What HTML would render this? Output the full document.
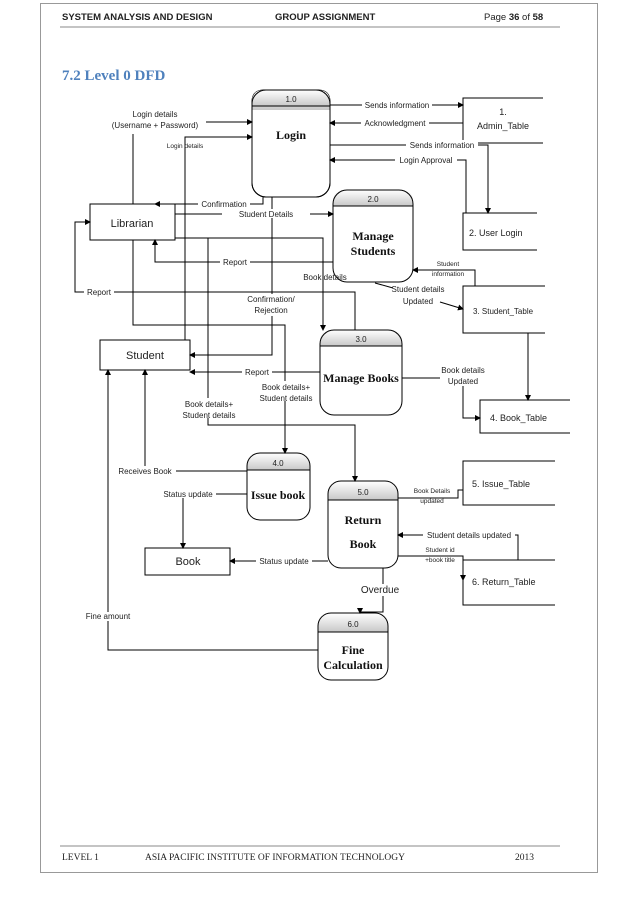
<!DOCTYPE html>
<html><head><meta charset="utf-8"><style>
html,body{margin:0;padding:0;background:#fff;}
svg{display:block;}
text{font-family:"Liberation Sans",sans-serif;fill:#222;}
.s{font-size:8px;}
.xs{font-size:6.5px;}
.m{font-size:11px;}
.b{font-family:"Liberation Serif",serif;font-weight:bold;font-size:12px;fill:#111;}
.h{font-family:"Liberation Sans",sans-serif;font-weight:bold;font-size:9.5px;}
.f{font-family:"Liberation Serif",serif;font-size:9.5px;}
</style></head><body>
<svg width="638" height="903" viewBox="0 0 638 903" xmlns="http://www.w3.org/2000/svg">
<defs>
<marker id="a" markerWidth="6" markerHeight="6" refX="5" refY="3" orient="auto" markerUnits="userSpaceOnUse"><path d="M0,0 L6,3 L0,6 z" fill="#000"/></marker>
<linearGradient id="g" x1="0" y1="0" x2="0" y2="1"><stop offset="0" stop-color="#fff"/><stop offset="1" stop-color="#c8c8c8"/></linearGradient>
</defs>
<rect x="40.5" y="3.5" width="557" height="869" fill="none" stroke="#999" stroke-width="1"/>
<text x="62" y="20" class="h">SYSTEM ANALYSIS AND DESIGN</text>
<text x="275" y="20" class="h">GROUP ASSIGNMENT</text>
<text x="484" y="20" style="font-size:9.5px">Page <tspan font-weight="bold">36</tspan> of <tspan font-weight="bold">58</tspan></text>
<line x1="60" y1="27" x2="560" y2="27" stroke="#888"/>
<text x="62" y="80" style="font-family:'Liberation Serif',serif;font-weight:bold;font-size:15px;fill:#4f81bd">7.2 Level 0 DFD</text>

<g fill="none" stroke="#000" stroke-width="1">
<!-- processes -->
<path d="M252,110 V102 Q252,90 264,90 H318 Q330,90 330,102 V110" fill="url(#g)"/>
<rect x="252" y="90" width="78" height="107" rx="14" />
<line x1="252" y1="106" x2="330" y2="106"/>
<path d="M333,206 V202 Q333,190 345,190 H401 Q413,190 413,202 V206 Z" fill="url(#g)" stroke="none"/>
<rect x="333" y="190" width="80" height="92" rx="14"/>
<line x1="333" y1="206" x2="413" y2="206"/>
<path d="M320,346 V342 Q320,330 332,330 H390 Q402,330 402,342 V346 Z" fill="url(#g)" stroke="none"/>
<rect x="320" y="330" width="82" height="85" rx="14"/>
<line x1="320" y1="346" x2="402" y2="346"/>
<path d="M247,470 V465 Q247,453 259,453 H298 Q310,453 310,465 V470 Z" fill="url(#g)" stroke="none"/>
<rect x="247" y="453" width="63" height="67" rx="13"/>
<line x1="247" y1="470" x2="310" y2="470"/>
<path d="M328,500 V493 Q328,481 340,481 H386 Q398,481 398,493 V500 Z" fill="url(#g)" stroke="none"/>
<rect x="328" y="481" width="70" height="87" rx="13"/>
<line x1="328" y1="500" x2="398" y2="500"/>
<path d="M318,632 V625 Q318,613 330,613 H376 Q388,613 388,625 V632 Z" fill="url(#g)" stroke="none"/>
<rect x="318" y="613" width="70" height="67" rx="13"/>
<line x1="318" y1="632" x2="388" y2="632"/>
<path d="M252,106 V102 Q252,90 264,90 H318 Q330,90 330,102 V106 Z" fill="url(#g)" stroke="none"/>
<rect x="252" y="90" width="78" height="107" rx="14"/>
<line x1="252" y1="106" x2="330" y2="106"/>

<!-- entities -->
<rect x="90" y="204" width="85" height="36"/>
<rect x="100" y="340" width="90" height="30"/>
<rect x="145" y="548" width="85" height="27"/>
<!-- data stores (open right) -->
<path d="M543,98 H463 V143 H543"/>
<path d="M537,213 H463 V250 H537"/>
<path d="M545,286 H463 V333 H545"/>
<path d="M570,400 H480 V433 H570"/>
<path d="M555,461 H463 V505 H555"/>
<path d="M555,560 H463 V605 H555"/>

<!-- flows -->
<line x1="330" y1="105" x2="463" y2="105" marker-end="url(#a)"/>
<line x1="463" y1="123" x2="330" y2="123" marker-end="url(#a)"/>
<path d="M330,145 H488 V213" marker-end="url(#a)"/>
<path d="M466,213 V160 H330" marker-end="url(#a)"/>
<path d="M133,204 V134"/>
<line x1="206" y1="122" x2="252" y2="122" marker-end="url(#a)"/>
<path d="M185,340 V137 H252" marker-end="url(#a)"/>
<path d="M263,197 V204 H155" marker-end="url(#a)"/>
<line x1="175" y1="214" x2="333" y2="214" marker-end="url(#a)"/>
<path d="M272,197 V355 H190" marker-end="url(#a)"/>
<path d="M175,238 H323 V330" marker-end="url(#a)"/>
<path d="M333,262 H155 V240" marker-end="url(#a)"/>
<path d="M355,330 V292 H75 V222 H90" marker-end="url(#a)"/>
<path d="M133,240 V325 H285 V453" marker-end="url(#a)"/>
<path d="M208,238 V425 H355 V481" marker-end="url(#a)"/>
<line x1="320" y1="372" x2="190" y2="372" marker-end="url(#a)"/>
<line x1="375" y1="283" x2="393" y2="288"/>
<line x1="440" y1="302" x2="463" y2="309" marker-end="url(#a)"/>
<path d="M475,286 V270 H413" marker-end="url(#a)"/>
<line x1="528" y1="333" x2="528" y2="400" marker-end="url(#a)"/>
<path d="M402,378 H440"/>
<path d="M463,386 V418 H480" marker-end="url(#a)"/>
<path d="M247,471 H145 V370" marker-end="url(#a)"/>
<path d="M247,494 H183 V548" marker-end="url(#a)"/>
<line x1="328" y1="561" x2="230" y2="561" marker-end="url(#a)"/>
<path d="M398,498 H458 V490 H463"/>
<path d="M518,560 V535 H398" marker-end="url(#a)"/>
<path d="M398,556 H463 V580" marker-end="url(#a)"/>
<path d="M383,568 V612 H360 V613" marker-end="url(#a)"/>
<path d="M318,650 H108 V370" marker-end="url(#a)"/>
</g>

<!-- label backgrounds and labels -->
<g fill="#fff">
<rect x="362" y="100" width="70" height="9"/><rect x="361" y="118" width="68" height="9"/>
<rect x="406" y="140" width="72" height="9"/><rect x="395" y="155" width="62" height="9"/>
<rect x="198" y="199" width="52" height="9"/><rect x="222" y="209" width="88" height="9"/>
<rect x="220" y="257" width="30" height="9"/><rect x="84" y="287" width="30" height="9"/>
<rect x="242" y="367" width="30" height="9"/><rect x="116" y="466" width="60" height="9"/>
<rect x="160" y="489" width="56" height="9"/><rect x="256" y="556" width="56" height="9"/>
<rect x="423" y="530" width="92" height="9"/><rect x="360" y="584" width="42" height="12"/>
<rect x="78" y="612" width="60" height="9"/><rect x="243" y="294" width="56" height="22"/>
<rect x="180" y="398" width="58" height="20"/><rect x="256" y="381" width="60" height="20"/>
</g>
<text class="s" x="155" y="117" text-anchor="middle">Login details</text>
<text class="s" x="155" y="128" text-anchor="middle">(Username + Password)</text>
<text class="xs" x="185" y="148" text-anchor="middle">Login details</text>
<text class="s" x="397" y="108" text-anchor="middle">Sends information</text>
<text class="s" x="395" y="126" text-anchor="middle">Acknowledgment</text>
<text class="s" x="442" y="148" text-anchor="middle">Sends information</text>
<text class="s" x="426" y="163" text-anchor="middle">Login Approval</text>
<text class="s" x="224" y="207" text-anchor="middle">Confirmation</text>
<text class="s" x="266" y="217" text-anchor="middle">Student Details</text>
<text class="s" x="235" y="265" text-anchor="middle">Report</text>
<text class="s" x="99" y="295" text-anchor="middle">Report</text>
<text class="s" x="325" y="280" text-anchor="middle">Book details</text>
<text class="s" x="418" y="292" text-anchor="middle">Student details</text>
<text class="s" x="418" y="304" text-anchor="middle">Updated</text>
<text class="xs" x="448" y="266" text-anchor="middle">Student</text>
<text class="xs" x="448" y="276" text-anchor="middle">information</text>
<text class="s" x="271" y="302" text-anchor="middle">Confirmation/</text>
<text class="s" x="271" y="313" text-anchor="middle">Rejection</text>
<text class="s" x="257" y="375" text-anchor="middle">Report</text>
<text class="s" x="463" y="373" text-anchor="middle">Book details</text>
<text class="s" x="463" y="384" text-anchor="middle">Updated</text>
<text class="s" x="286" y="390" text-anchor="middle">Book details+</text>
<text class="s" x="286" y="401" text-anchor="middle">Student details</text>
<text class="s" x="209" y="407" text-anchor="middle">Book details+</text>
<text class="s" x="209" y="418" text-anchor="middle">Student details</text>
<text class="s" x="145" y="474" text-anchor="middle">Receives Book</text>
<text class="s" x="188" y="497" text-anchor="middle">Status update</text>
<text class="s" x="284" y="564" text-anchor="middle">Status update</text>
<text class="xs" x="432" y="493" text-anchor="middle">Book Details</text>
<text class="xs" x="432" y="503" text-anchor="middle">updated</text>
<text class="s" x="469" y="538" text-anchor="middle">Student details updated</text>
<text class="xs" x="440" y="552" text-anchor="middle">Student id</text>
<text class="xs" x="440" y="562" text-anchor="middle">+book title</text>
<text x="380" y="593" text-anchor="middle" style="font-size:10px">Overdue</text>
<text class="s" x="108" y="619" text-anchor="middle">Fine amount</text>

<text class="s" x="291" y="102" text-anchor="middle">1.0</text>
<text class="b" x="291" y="139" text-anchor="middle">Login</text>
<text class="s" x="373" y="202" text-anchor="middle">2.0</text>
<text class="b" x="373" y="240" text-anchor="middle">Manage</text>
<text class="b" x="373" y="255" text-anchor="middle">Students</text>
<text class="s" x="361" y="342" text-anchor="middle">3.0</text>
<text class="b" x="361" y="382" text-anchor="middle">Manage Books</text>
<text class="s" x="278" y="466" text-anchor="middle">4.0</text>
<text class="b" x="278" y="499" text-anchor="middle">Issue book</text>
<text class="s" x="363" y="495" text-anchor="middle">5.0</text>
<text class="b" x="363" y="524" text-anchor="middle">Return</text>
<text class="b" x="363" y="548" text-anchor="middle">Book</text>
<text class="s" x="353" y="627" text-anchor="middle">6.0</text>
<text class="b" x="353" y="654" text-anchor="middle">Fine</text>
<text class="b" x="353" y="669" text-anchor="middle">Calculation</text>

<text class="m" x="132" y="227" text-anchor="middle">Librarian</text>
<text class="m" x="145" y="359" text-anchor="middle">Student</text>
<text class="m" x="188" y="565" text-anchor="middle">Book</text>
<text class="s" x="503" y="115" text-anchor="middle" style="font-size:9px">1.</text>
<text class="s" x="503" y="129" text-anchor="middle" style="font-size:9px">Admin_Table</text>
<text x="469" y="236" style="font-size:9px">2.  User Login</text>
<text class="s" x="473" y="314">3.  Student_Table</text>
<text x="490" y="421" style="font-size:9px">4.  Book_Table</text>
<text x="472" y="487" style="font-size:9px">5.  Issue_Table</text>
<text x="472" y="585" style="font-size:9px">6.  Return_Table</text>

<line x1="60" y1="846" x2="560" y2="846" stroke="#888"/>
<text class="f" x="62" y="860">LEVEL 1</text>
<text class="f" x="145" y="860">ASIA PACIFIC INSTITUTE OF INFORMATION TECHNOLOGY</text>
<text class="f" x="515" y="860">2013</text>
</svg>
</body></html>
